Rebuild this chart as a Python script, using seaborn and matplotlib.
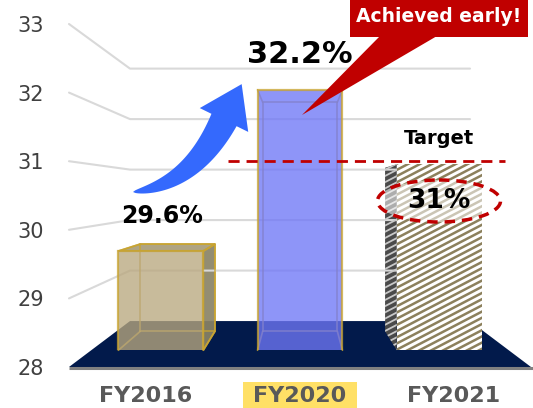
import numpy as np
import pandas as pd
import seaborn as sns
import matplotlib
matplotlib.use("Agg")
import matplotlib.pyplot as plt
from matplotlib.patches import Polygon, Ellipse, Rectangle
from matplotlib.collections import LineCollection

# data
years = ["FY2016", "FY2020", "FY2021"]
ratios = [29.6, 32.2, 31.0]
value_labels = ["29.6%", "32.2%", "31%"]
target = 31.0
y_ticks = [28, 29, 30, 31, 32, 33]

face_colors = ["#b9a87f", "#6f77f7", "#ffffff"]
GOLD = "#c8a432"
RED = "#c00000"

# fake 3D: front plane of the chart plus a simple perspective toward VP
W, H = 533, 408
VPX, VPY = 300, 193
BASE = 28
X_MID, X_STEP = 300, 154
Y_BASE, Y_STEP = 367, 68.6
SHRINK = 0.264
T_FRONT, T_BACK = 0.364, 0.777
HALF = 0.305


def proj(c, v, t=0.0):
    s = 1 - SHRINK * t
    fx = X_MID + X_STEP * (c - 1)
    fy = Y_BASE - Y_STEP * (v - BASE)
    return (VPX + s * (fx - VPX), VPY + s * (fy - VPY))


def box(t):
    x0, y0 = proj(-0.5, y_ticks[0], t)
    x1, y1 = proj(2.5, y_ticks[-1], t)
    return [x0 / W, 1 - y0 / H, (x1 - x0) / W, (y0 - y1) / H]


def stripes(ax, clip, trans, color, lw):
    # slanted stripe texture (pixel coords), clipped to a polygon
    segs = []
    for b in np.arange(0, H + 300, 6.2):
        segs.append([(330, b), (W, b - 0.52 * (W - 330))])
    lc = LineCollection(segs, colors=color, linewidths=lw, transform=trans, zorder=3)
    ax.add_collection(lc, autolim=False)
    lc.set_clip_path(clip)


sns.set_theme(style="white")
plt.rcParams["font.family"] = ["DejaVu Sans"]

fig = plt.figure(figsize=(W / 100, H / 100), dpi=100)

ax_bg = fig.add_axes([0, 0, 1, 1], zorder=0)
ax_bg.set_xlim(0, W)
ax_bg.set_ylim(H, 0)
ax_bg.axis("off")

# walls: left wall + back wall grid lines
for v in y_ticks[1:]:
    a = proj(-0.5, v, 0)
    b = proj(-0.5, v, 1)
    c = proj(2.5, v, 1)
    ax_bg.plot([a[0], b[0], c[0]], [a[1], b[1], c[1]], color="#d9d9d9", lw=1.5)

# floor
floor = [proj(-0.5, BASE, 0), proj(2.5, BASE, 0), proj(2.5, BASE, 1), proj(-0.5, BASE, 1)]
ax_bg.add_patch(Polygon(floor, closed=True, fc="#021a4b", ec="none"))
fl, fr = proj(-0.5, BASE, 0), proj(2.5, BASE, 0)
ax_bg.plot([fl[0], fr[0] + 3], [fl[1] + 1, fr[1] + 1], color="#808080", lw=2.2,
           solid_capstyle="butt")

# highlight box behind the FY2020 label
hx = proj(1, BASE, 0)[0]
ax_bg.add_patch(Rectangle((hx - 57, 382), 114, 30, fc="#ffe066", ec="none"))

# bar depth: back edges, side and top faces
for i, v in enumerate(ratios):
    l, r = i - HALF, i + HALF
    if i != 2:
        bl0, bl1 = proj(l, BASE, T_BACK), proj(l, v, T_BACK)
        br0, br1 = proj(r, BASE, T_BACK), proj(r, v, T_BACK)
        back = [bl0, bl1, br1, br0, bl0]
        ax_bg.plot([p[0] for p in back], [p[1] for p in back], color=GOLD, lw=1.2, alpha=0.8)
        for cx in (l, r):
            for vv in (BASE, v):
                p, q = proj(cx, vv, T_FRONT), proj(cx, vv, T_BACK)
                ax_bg.plot([p[0], q[0]], [p[1], q[1]], color=GOLD, lw=1.2, alpha=0.8)
    if i == 0:
        side = [proj(r, BASE, T_FRONT), proj(r, v, T_FRONT), proj(r, v, T_BACK), proj(r, BASE, T_BACK)]
        ax_bg.add_patch(Polygon(side, closed=True, fc="#8a8366", ec=GOLD, lw=1.3, alpha=0.92))
        top = [proj(l, v, T_FRONT), proj(r, v, T_FRONT), proj(r, v, T_BACK), proj(l, v, T_BACK)]
        ax_bg.add_patch(Polygon(top, closed=True, fc="#a89c78", ec=GOLD, lw=1.3, alpha=0.92))
    if i == 2:
        side = [proj(l, BASE, T_FRONT), proj(l, v, T_FRONT), proj(l, v, T_BACK), proj(l, BASE, T_BACK)]
        sp = Polygon(side, closed=True, fc="#4a4a4a", ec="none")
        ax_bg.add_patch(sp)
        stripes(ax_bg, sp, ax_bg.transData, "#c8c8c8", 1.3)

# front faces with seaborn
df = pd.DataFrame({"year": years, "ratio": ratios})
ax_bar = fig.add_axes(box(T_FRONT), zorder=2)
sns.barplot(data=df, x="year", y="ratio", hue="year", palette=face_colors, width=2 * HALF,
            saturation=1, legend=False, ax=ax_bar)
ax_bar.set_xlim(-0.5, 2.5)
ax_bar.set_ylim(y_ticks[0], y_ticks[-1])
ax_bar.patch.set_alpha(0)
ax_bar.axis("off")
ylo = ax_bar.get_ylim()[0]
for p in list(ax_bar.patches):
    i = int(round(p.get_x() + p.get_width() / 2))
    if i == 2:
        p.set_facecolor("white")
        p.set_linewidth(0)
        x0, w, h = p.get_x(), p.get_width(), p.get_height()
        clip = Polygon([(x0, ylo), (x0 + w, ylo), (x0 + w, h), (x0, h)], closed=True,
                       transform=ax_bar.transData)
        stripes(ax_bar, clip, ax_bg.transData, "#8c805c", 1.8)
    else:
        p.set_alpha(0.78)
        p.set_edgecolor(GOLD)
        p.set_linewidth(1.6)

# front plane: tick labels
ax_front = fig.add_axes(box(0), zorder=1)
ax_front.set_xlim(-0.5, 2.5)
ax_front.set_ylim(y_ticks[0], y_ticks[-1])
ax_front.patch.set_alpha(0)
for s in ax_front.spines.values():
    s.set_visible(False)
ax_front.set_yticks(y_ticks)
ax_front.set_xticks(range(len(years)), years)
ax_front.tick_params(axis="y", length=0, pad=18, labelsize=15, labelcolor="#404040")
ax_front.tick_params(axis="x", length=0, pad=14, labelsize=16, labelcolor="#595959")
for t in ax_front.get_xticklabels():
    t.set_fontweight("bold")

# overlay annotations
ax_fg = fig.add_axes([0, 0, 1, 1], zorder=3)
ax_fg.set_xlim(0, W)
ax_fg.set_ylim(H, 0)
ax_fg.axis("off")

# growth arrow
P0, C, P2 = np.array([133.0, 192.0]), np.array([192.0, 185.0]), np.array([224.0, 120.0])
u = np.linspace(0, 1, 50)[:, None]
pts = (1 - u) ** 2 * P0 + 2 * u * (1 - u) * C + u ** 2 * P2
d = 2 * (1 - u) * (C - P0) + 2 * u * (P2 - C)
n = np.column_stack([-d[:, 1], d[:, 0]]) / np.linalg.norm(d, axis=1)[:, None]
half_w = 14 * u ** 0.6
upper = pts + n * half_w
lower = pts - n * half_w
dirv = (P2 - C) / np.linalg.norm(P2 - C)
nrm = np.array([-dirv[1], dirv[0]])
tip = P2 + dirv * 40
arrow = np.vstack([upper, P2 + nrm * 27, tip, P2 - nrm * 27, lower[::-1]])
ax_fg.add_patch(Polygon(arrow, closed=True, fc="#3469fd", ec="none"))

# value labels
sizes = [17, 22, 19]
for i, v in enumerate(ratios):
    off = 0.57 if i < 2 else -0.59
    x, y = proj(i, v + off, T_FRONT)
    ax_fg.text(x + (1.5 if i == 0 else 0), y, value_labels[i], ha="center", va="center",
               fontsize=sizes[i], fontweight="bold", color="black", zorder=5)

# target line and ellipse
ty = proj(1, target, 0)[1]
ax_fg.plot([228, 505], [ty, ty], color=RED, lw=2, dashes=(4, 2.5))
ax_fg.text(439, 138, "Target", ha="center", va="center", fontsize=14, fontweight="bold",
           color="black")
ax_fg.add_patch(Ellipse((439, 201), 123, 42, fc=(1, 1, 1, 0.55), ec=RED, lw=2.5,
                        ls=(0, (3, 2)), zorder=4))

# callout
ax_fg.add_patch(Rectangle((350, 0), 178, 37, fc=RED, ec="none"))
ax_fg.add_patch(Polygon([(380, 36), (437, 36), (302, 115)], closed=True, fc=RED, ec="none"))
ax_fg.text(439, 17, "Achieved early!", ha="center", va="center", fontsize=13.5,
           fontweight="bold", color="white")

fig.savefig("out.png", dpi=100)
